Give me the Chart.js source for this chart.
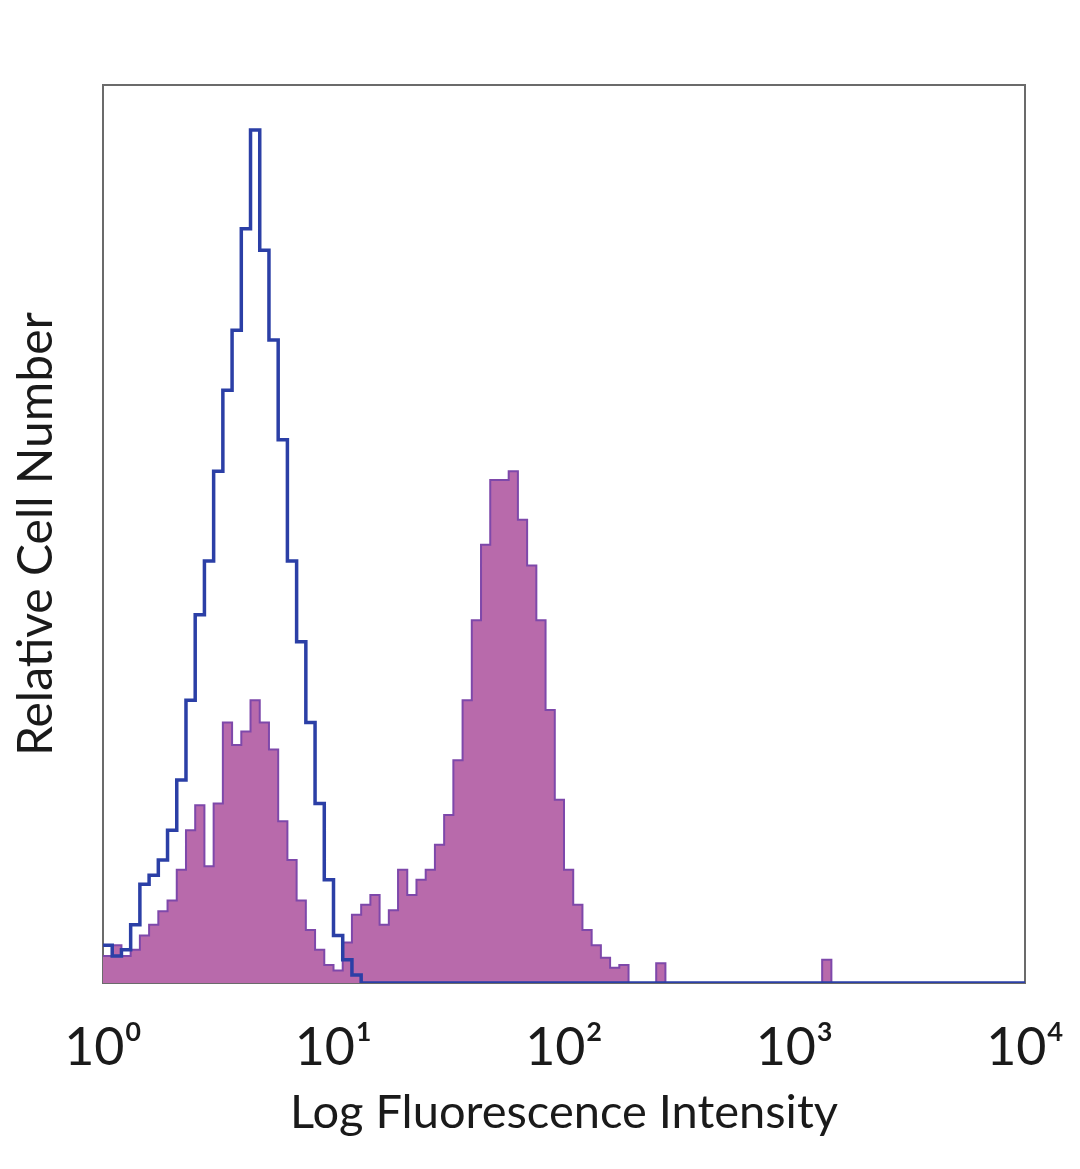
<!DOCTYPE html>
<html>
<head>
<meta charset="utf-8">
<script src="https://cdn.jsdelivr.net/npm/chart.js@4/dist/chart.umd.min.js"></script>
<style>
  html, body { margin: 0; padding: 0; background: #fff; }
  #wrap { width: 1080px; height: 1169px; }
</style>
</head>
<body>
<div id="wrap"><canvas id="histChart" width="1080" height="1169"></canvas></div>
<script>
// Histogram bins: 0.04 decade wide, starting at 10^0 (100 bins up to 10^4)
const binWidthLog = 0.04;

// Control (blue outline), relative counts per bin
const controlCounts = [
  4.2, 3, 3.7, 6.5, 11, 12, 13.7, 17, 22.6, 31.5,
  41, 47, 57, 66, 72.7, 84, 95, 81.6, 71.6, 60.5,
  47, 38, 29, 20, 11.5, 5.3, 2.6, 0.9, 0, 0,
  0, 0, 0, 0, 0, 0, 0, 0, 0, 0,
  0, 0, 0, 0, 0, 0, 0, 0, 0, 0,
  0, 0, 0, 0, 0, 0, 0, 0, 0, 0,
  0, 0, 0, 0, 0, 0, 0, 0, 0, 0,
  0, 0, 0, 0, 0, 0, 0, 0, 0, 0,
  0, 0, 0, 0, 0, 0, 0, 0, 0, 0,
  0, 0, 0, 0, 0, 0, 0, 0, 0, 0
];

// Stained sample (purple filled), relative counts per bin
const stainedCounts = [
  3, 4.2, 3, 3.7, 5.3, 6.5, 8, 9.2, 12.6, 17,
  19.8, 13, 20, 29, 26.5, 28, 31.5, 29, 26, 18,
  13.7, 9.2, 5.9, 3.7, 2, 1.4, 4.5, 7.6, 8.7, 9.8,
  6.5, 8.1, 12.6, 9.8, 11.5, 12.6, 15.4, 18.7, 24.8, 31.5,
  40.4, 48.8, 56, 56, 57, 51.6, 46.5, 40.4, 30.4, 20.4,
  12.6, 8.7, 5.9, 4.2, 2.8, 1.7, 2, 0, 0, 0,
  2.2, 0, 0, 0, 0, 0, 0, 0, 0, 0,
  0, 0, 0, 0, 0, 0, 0, 0, 2.6, 0,
  0, 0, 0, 0, 0, 0, 0, 0, 0, 0,
  0, 0, 0, 0, 0, 0, 0, 0, 0, 0
];

const tickValues = [1, 10, 100, 1000, 10000];
const tickLabels = ['10\u2070', '10\u00b9', '10\u00b2', '10\u00b3', '10\u2074'];

// bin start edges plus a closing point at the right edge
function toPoints(counts) {
  const pts = counts.map((c, i) => ({ x: Math.pow(10, i * binWidthLog), y: c }));
  pts.push({ x: Math.pow(10, counts.length * binWidthLog), y: counts[counts.length - 1] });
  return pts;
}

const framePlugin = {
  id: 'frame',
  beforeDatasetsDraw(chart) {
    const a = chart.chartArea;
    const ctx = chart.ctx;
    ctx.save();
    ctx.strokeStyle = '#6b6b6b';
    ctx.lineWidth = 2;
    ctx.strokeRect(a.left, a.top, a.right - a.left, a.bottom - a.top);
    ctx.restore();
  }
};

const ctx = document.getElementById('histChart').getContext('2d');
new Chart(ctx, {
  type: 'line',
  data: {
    datasets: [
      {
        label: 'Control',
        data: toPoints(controlCounts),
        stepped: 'before',
        borderColor: '#2b3fa6',
        borderWidth: 3.5,
        fill: false,
        pointRadius: 0,
        order: 0
      },
      {
        label: 'Stained',
        data: toPoints(stainedCounts),
        stepped: 'before',
        borderColor: '#7e48aa',
        borderWidth: 2,
        backgroundColor: '#b86aab',
        fill: 'origin',
        pointRadius: 0,
        order: 1
      }
    ]
  },
  options: {
    responsive: false,
    animation: false,
    layout: { padding: { top: 85, right: 55, bottom: 0, left: 0 } },
    plugins: { legend: { display: false }, tooltip: { enabled: false } },
    scales: {
      x: {
        type: 'logarithmic',
        min: 1,
        max: 10000,
        grid: { display: false, drawTicks: false },
        border: { display: false },
        afterBuildTicks: (axis) => { axis.ticks = tickValues.map(v => ({ value: v })); },
        afterFit: (axis) => { axis.height = 186; axis.paddingLeft = 0; axis.paddingRight = 0; },
        ticks: {
          maxRotation: 0,
          autoSkip: false,
          padding: 34,
          color: '#1a1a1a',
          font: { family: 'Lato', size: 52 },
          callback: (value) => tickLabels[tickValues.indexOf(value)]
        },
        title: {
          display: true,
          text: 'Log Fluorescence Intensity',
          color: '#1a1a1a',
          font: { family: 'Lato', size: 47 },
          padding: { top: 0, bottom: 28 }
        }
      },
      y: {
        min: 0,
        max: 100,
        grid: { display: false, drawTicks: false },
        border: { display: false },
        ticks: { display: false },
        afterFit: (axis) => { axis.width = 103; },
        title: {
          display: true,
          text: 'Relative Cell Number',
          color: '#1a1a1a',
          font: { family: 'Lato', size: 48 },
          padding: { top: 8, bottom: 0 }
        }
      }
    }
  },
  plugins: [framePlugin]
});
</script>
</body>
</html>
